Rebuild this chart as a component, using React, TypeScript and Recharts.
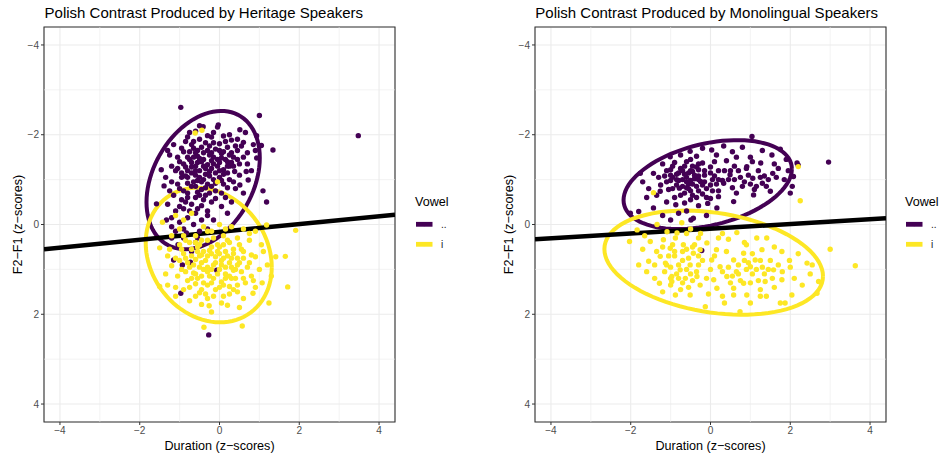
import React from 'react';
import {
  ComposedChart, Scatter, Line, XAxis, YAxis, CartesianGrid, ReferenceLine, ReferenceArea,
} from 'recharts';

const PURPLE = '#440154';
const YELLOW = '#FDE725';
const FONT = '"Liberation Sans", Arial, Helvetica, sans-serif';

const DOMAIN: [number, number] = [-4.4, 4.4];
const MAJOR_TICKS = [-4, -2, 0, 2, 4];
const MINOR_TICKS = [-3, -1, 1, 3];
const VOWELS = ['..', 'i'];

// heritage speakers, [duration z, F2-F1 z]
const heritagePurple: [number, number][] = [
  [-0.97, -2.61], [1.0, -2.43], [-0.03, -2.22], [-0.05, -2.17], [-0.41, -2.18], [0.51, -2.11], [-0.75, -2.05], [-0.6, -2.08],
  [0.93, -1.98], [3.48, -1.98], [-0.2, -1.95], [0.1, -1.97], [-0.5, -1.9], [0.3, -1.88], [-0.85, -1.85], [0.6, -1.83],
  [-0.35, -1.82], [1.05, -1.76], [0.85, -1.78], [-1.15, -1.78], [0.0, -1.8],
  [1.34, -1.66], [-0.65, -1.7], [-0.1, -1.68], [0.2, -1.72], [0.45, -1.65], [-0.9, -1.62], [-0.4, -1.6], [0.05, -1.58],
  [-0.25, -1.55], [0.7, -1.6], [0.93, -1.48], [-1.25, -1.55], [-0.55, -1.52], [0.35, -1.5], [-0.15, -1.5], [0.15, -1.45],
  [-0.75, -1.45], [-1.0, -1.4], [-0.45, -1.4], [0.0, -1.38], [0.5, -1.35], [-0.3, -1.33], [0.25, -1.3], [-0.6, -1.3],
  [-0.85, -1.28], [-1.46, -1.22], [0.67, -1.18], [-0.2, -1.25], [0.1, -1.22], [-0.5, -1.2], [-1.1, -1.2], [0.38, -1.18],
  [-0.7, -1.15], [-0.35, -1.12], [0.72, -0.99], [0.51, -0.88], [-0.95, -1.05], [0.0, -1.05], [-0.15, -1.0], [0.25, -1.0],
  [-0.55, -0.98], [-1.2, -0.95], [-0.8, -0.92], [-0.3, -0.9], [0.1, -0.9], [-1.39, -0.86], [0.4, -0.8], [-0.6, -0.85],
  [-1.0, -0.8], [-0.45, -0.78], [-0.1, -0.75], [1.09, -0.75], [0.6, -0.7], [-0.8, -0.7], [-1.15, -0.65], [-0.35, -0.65],
  [0.15, -0.6], [-0.6, -0.6], [-0.95, -0.55], [0.3, -0.5], [1.18, -0.5], [-1.58, -0.46], [-0.2, -0.5], [-0.7, -0.45],
  [-1.3, -0.45], [-0.45, -0.42], [0.05, -0.4], [-0.9, -0.35], [-1.1, -0.3], [-0.3, -0.3], [-0.6, -0.25], [0.2, -0.25],
  [-1.33, -0.1], [-0.8, -0.15], [-0.45, -0.1], [-1.0, -0.05], [-0.15, -0.1], [-0.65, 0.0], [-1.2, 0.05], [-0.83, 0.19],
  [-1.04, 0.45], [-0.7, 0.6], [-0.9, 0.3], [-0.5, 0.15], [-1.2, 0.3], [-0.6, 0.4], [-0.3, 0.1], [-1.15, 0.79],
  [-0.93, 0.9], [-0.73, 0.84], [-0.07, 1.02], [-0.97, 1.53], [-0.27, 2.46],
  [-0.25, -1.75], [-0.05, -1.45], [-0.55, -1.65], [0.3, -1.6], [-0.8, -1.2], [-0.1, -1.15], [0.2, -1.4], [-0.4, -1.0],
  [-0.65, -1.85], [-0.3, -1.98], [0.15, -1.85], [0.45, -1.9], [-0.95, -1.7], [-0.45, -1.72], [0.0, -1.65], [0.55, -1.75],
  [-0.75, -1.62], [-0.2, -1.6], [0.25, -1.55], [-1.05, -1.5], [-0.65, -1.5], [-0.4, -1.45], [0.05, -1.48], [0.45, -1.45],
  [-0.9, -1.35], [-0.55, -1.38], [-0.15, -1.35], [0.35, -1.3], [0.7, -1.35], [-1.2, -1.3], [-0.7, -1.28], [-0.35, -1.25],
  [0.0, -1.2], [0.2, -1.15], [-0.95, -1.15], [-0.6, -1.1], [-0.25, -1.08], [0.5, -1.1], [-1.35, -1.05], [-0.8, -1.05],
  [-0.45, -0.95], [0.05, -0.98], [0.35, -0.95], [-1.05, -0.9], [-0.7, -0.85], [-0.2, -0.85], [0.2, -0.82], [-0.9, -0.75],
  [-0.55, -0.72], [-0.25, -0.7], [0.05, -0.7], [-1.25, -0.75], [-0.4, -0.55], [-0.85, -0.5], [-0.1, -0.58], [-1.0, -0.4],
  [-0.55, -0.35], [-0.75, -0.3], [-1.2, -0.15], [-0.3, -0.2], [-0.9, 0.1], [-0.55, 0.3], [-1.1, 0.15], [0.6, -1.5],
  [0.8, -1.2], [0.9, -1.65], [-1.3, -1.65], [-0.5, -2.2], [0.25, -2.0], [-0.8, -1.95], [0.65, -2.05], [-0.15, -2.05],
  [-0.6, -1.6], [-0.3, -1.65], [0.1, -1.62], [-0.8, -1.5], [-0.5, -1.47], [-0.2, -1.42], [0.3, -1.38], [-0.7, -1.38],
  [-0.4, -1.3], [-0.05, -1.3], [-0.6, -1.2], [-0.25, -1.18], [0.1, -1.12], [-0.85, -1.08], [-0.5, -1.05], [-0.1, -0.92],
  [-0.65, -0.95], [-0.35, -0.82], [-0.8, -0.6], [-0.5, -0.65], [-0.15, -1.82], [0.4, -1.75], [-0.7, -1.78], [0.2, -1.3],
  [-1.05, -1.25],
];

const heritageYellow: [number, number][] = [
  [-0.61, -2.04], [-0.44, -2.1], [-0.05, -0.95], [-0.9, -0.1], [-1.1, -0.2], [-0.7, -0.25],
  [-1.43, -0.05], [0.0, 0.0], [1.18, 0.01], [1.91, 0.13], [-0.4, 0.05], [0.3, 0.05], [-1.0, 0.1], [0.6, 0.1],
  [-0.2, 0.15], [0.9, 0.15], [-1.2, 0.25], [-0.6, 0.25], [0.1, 0.25], [0.45, 0.3], [-0.85, 0.35], [-0.3, 0.35],
  [0.75, 0.35], [0.25, 0.4], [-1.0, 0.45], [-0.05, 0.45], [-0.5, 0.45], [1.05, 0.45], [-1.5, 0.52], [-1.25, 0.55],
  [-0.7, 0.55], [0.55, 0.55], [-0.25, 0.58], [0.15, 0.6], [-0.9, 0.65], [0.35, 0.65], [-0.45, 0.68], [0.8, 0.68],
  [0.9, 0.72], [1.41, 0.72], [1.65, 0.71], [-0.1, 0.72], [-1.1, 0.75], [0.6, 0.75], [-0.6, 0.78], [0.05, 0.8],
  [-0.35, 0.8], [-0.8, 0.85], [0.25, 0.85], [-0.15, 0.9], [0.45, 0.9], [-1.2, 0.92], [0.7, 0.95], [-0.5, 0.95],
  [0.0, 1.0], [-0.95, 1.0], [0.35, 1.02], [-0.3, 1.05], [0.55, 1.05], [1.0, 1.0], [-0.65, 1.08], [0.15, 1.1],
  [-1.05, 1.15], [-0.45, 1.15], [0.8, 1.15], [-0.15, 1.2], [0.4, 1.2], [-0.8, 1.25], [0.05, 1.28], [0.65, 1.3],
  [1.07, 1.3], [-0.6, 1.32], [-0.3, 1.35], [0.25, 1.38], [-1.5, 1.38], [1.71, 1.39], [-1.3, 1.35], [0.9, 1.4],
  [-0.9, 1.45], [-0.1, 1.45], [0.45, 1.5], [-0.5, 1.52], [0.84, 1.53], [-1.1, 1.6], [0.1, 1.6], [-0.3, 1.65],
  [0.6, 1.65], [-0.75, 1.7], [-0.26, 1.81], [-0.45, 1.78], [1.24, 1.75], [0.2, 1.8], [-0.39, 2.29], [0.57, 2.26],
  [-0.2, 1.95], [-0.4, 0.6], [0.2, 0.7], [-0.2, 1.0], [-0.6, 1.1], [0.3, 1.2], [0.0, 0.5], [-0.75, 0.95],
  [-0.75, 0.4], [-0.45, 0.35], [-0.15, 0.3], [0.2, 0.35], [0.5, 0.45], [-0.95, 0.55], [-0.55, 0.6], [-0.3, 0.7],
  [0.0, 0.65], [0.3, 0.75], [0.6, 0.6], [-1.0, 0.8], [-0.7, 0.7], [-0.45, 0.85], [-0.1, 0.85], [0.15, 0.95],
  [0.4, 1.0], [0.75, 0.85], [-0.85, 1.05], [-0.4, 1.0], [-0.05, 1.1], [0.25, 1.15], [0.6, 1.2], [-0.7, 1.2],
  [-0.2, 1.3], [0.1, 1.35], [0.45, 1.35], [-0.45, 1.45], [-0.75, 1.4], [0.25, 1.55], [-0.15, 1.6], [-0.6, 1.6],
  [0.85, 1.25], [1.2, 0.9], [1.1, 0.6], [-1.35, 1.1], [-1.1, 1.4], [0.05, 1.75], [0.5, 1.85], [-0.9, 0.25],
  [-0.3, 0.15], [0.15, 0.1], [0.75, 0.2], [-1.3, 0.7], [1.3, 1.15], [-0.55, 0.5], [0.45, 0.75], [-0.2, 0.5],
  [-0.5, 0.7], [-0.2, 0.65], [0.1, 0.75], [-0.65, 0.9], [-0.3, 0.95], [0.05, 0.9], [0.3, 0.95], [-0.55, 1.2],
  [-0.25, 1.15], [0.15, 1.2], [-0.4, 1.3], [0.0, 1.4], [0.35, 1.45], [-0.85, 0.75], [-0.05, 0.6], [0.5, 0.85],
  [-0.35, 1.55], [0.1, 0.45], [-0.6, 0.4], [0.35, 0.55],
];

// monolingual speakers
const monoPurple: [number, number][] = [
  [1.04, -1.96], [0.33, -1.75], [1.75, -1.68], [1.3, -1.65], [0.03, -1.66], [-0.51, -1.63], [0.8, -1.72], [-0.2, -1.7],
  [0.55, -1.62], [1.54, -1.55], [-1.01, -1.51], [-0.75, -1.55], [0.15, -1.55], [-0.35, -1.52], [1.0, -1.5],
  [2.17, -1.37], [2.96, -1.39], [2.2, -1.32], [1.26, -1.37], [-0.2, -1.37], [-0.6, -1.4], [-0.9, -1.38], [0.4, -1.42],
  [-1.2, -1.35], [0.91, -1.29], [0.6, -1.3], [-0.45, -1.3], [0.0, -1.28], [-0.75, -1.25], [1.7, -1.25], [-1.0, -1.22],
  [-0.3, -1.22], [0.2, -1.2], [1.95, -1.2], [-1.76, -1.14], [-1.43, -1.14], [1.56, -1.14], [0.49, -1.11], [-0.55, -1.15],
  [-0.85, -1.12], [-0.15, -1.1], [0.1, -1.08], [-1.15, -1.08], [2.08, -1.07], [0.75, -1.05], [1.06, -1.03], [1.35, -1.08],
  [-0.4, -1.02], [-0.7, -1.0], [-1.0, -0.98], [0.3, -0.98], [-0.25, -0.96], [1.85, -1.0], [1.3, -0.92], [0.33, -0.92],
  [0.8, -0.85], [-0.55, -0.9], [-0.85, -0.88], [-1.25, -0.88], [0.0, -0.88], [-0.35, -0.85], [-0.1, -0.8], [0.55, -0.82],
  [-0.78, -0.81], [-1.05, -0.78], [1.5, -0.74], [-1.26, -0.74], [-0.5, -0.75], [0.2, -0.75], [2.0, -0.7], [-0.65, -0.7],
  [1.1, -0.78], [-1.55, -0.8], [-0.2, -0.68], [1.08, -0.66], [0.2, -0.62], [0.58, -0.51], [-0.5, -0.55], [-0.9, -0.6],
  [-0.35, -0.6], [-0.07, -0.47], [-0.87, -0.44], [-1.1, -0.5], [0.0, -0.58], [-0.65, -0.48], [0.16, -0.37], [-1.43, -0.37],
  [-0.3, -0.42], [-2.01, -0.25], [-1.8, -0.29], [-0.43, -0.14], [-0.49, -0.1], [-1.2, -0.2], [-0.8, -0.25], [-0.1, -0.2],
  [-1.0, -0.1], [-0.6, -0.3], [-0.22, 0.58], [-0.6, -1.05], [-0.45, -1.18], [-0.7, -0.85], [-0.3, -1.0], [0.5, -1.2],
  [-0.95, -1.3], [-0.65, -1.3], [-0.3, -1.35], [0.1, -1.4], [-1.1, -1.2], [-0.8, -1.15], [-0.5, -1.2], [-0.15, -1.2],
  [0.35, -1.2], [-1.3, -1.05], [-0.95, -1.05], [-0.6, -0.95], [-0.3, -1.08], [0.05, -1.0], [0.45, -1.0], [-1.1, -0.95],
  [-0.8, -0.98], [-0.45, -0.9], [-0.15, -0.95], [0.15, -0.9], [-0.95, -0.8], [-0.6, -0.82], [-0.3, -0.75], [0.05, -0.75],
  [-1.35, -0.65], [-0.75, -0.65], [-0.45, -0.65], [-0.1, -0.6], [0.7, -1.2], [0.95, -1.1], [1.2, -1.2], [1.45, -1.0],
  [0.85, -0.95], [1.15, -0.85], [0.65, -0.7], [1.4, -0.85], [1.65, -1.05], [1.05, -1.4], [0.2, -1.0], [-0.5, -1.45],
  [0.65, -1.5], [1.6, -1.35], [1.9, -1.45], [2.05, -0.85], [-1.6, -0.6], [-1.7, -0.95],
  [-0.7, -1.2], [-0.4, -1.1], [-0.85, -1.0], [-0.5, -0.98], [-0.2, -0.88], [-0.65, -1.12], [-0.35, -1.28], [-1.0, -1.1],
  [0.0, -1.15], [-0.55, -0.8], [0.9, -1.25], [1.25, -1.05], [0.6, -1.0], [1.0, -0.9],
];

const monoYellow: [number, number][] = [
  [-2.03, 0.38], [-1.51, 0.38], [-1.55, 0.82], [-1.6, 1.05], [-1.28, 1.31], [-0.97, 1.27], [-0.88, 1.57], [-0.51, 1.57],
  [-0.13, 1.83], [0.74, 1.94], [1.75, 1.75], [1.87, 1.75], [2.04, 1.57], [2.67, 1.53], [2.71, 1.27], [2.42, 0.86],
  [2.55, 0.9], [3.0, 0.55], [3.63, 0.92], [2.25, -0.53], [2.2, -1.29], [1.79, 0.6], [1.98, 0.8], [1.58, 1.01],
  [1.79, 1.23], [1.37, 1.27], [1.25, 1.6], [1.4, 1.6], [1.12, 0.79], [1.29, 0.56], [1.41, 0.3], [1.16, 0.3],
  [0.45, 0.33], [0.66, 0.18], [-0.09, 0.41], [-0.3, 0.3], [-0.26, 0.56], [0.03, 0.79], [0.15, 0.56], [0.24, 0.94],
  [0.58, 0.79], [0.83, 0.64], [1.0, 0.94], [0.41, 1.16], [0.08, 1.23], [0.16, 1.42], [0.58, 1.42], [0.83, 1.31],
  [0.58, 1.57], [0.91, 1.57], [-0.51, 0.9], [-0.76, 1.01], [-1.13, 0.86], [-1.26, 0.71], [-1.01, 0.53], [-1.18, 0.34],
  [-0.88, 0.3], [-0.68, 0.45], [-0.43, 0.64], [-1.09, 0.16], [-0.84, 0.19], [-0.6, 0.2], [-0.34, 1.16], [-0.63, 1.2],
  [-0.97, 1.16], [-0.26, 1.35], [-1.84, 0.12], [-1.34, 0.0], [-0.72, -0.04], [-1.43, -0.71], [0.3, 0.2], [-0.5, 0.1],
  [0.9, 1.0], [1.05, 1.1], [1.3, 0.95], [1.5, 0.8], [0.7, 1.1], [1.2, 1.25], [1.6, 1.4], [2.1, 1.2],
  [2.3, 1.35], [-0.9, 0.7], [-0.7, 0.8], [-1.0, 0.95], [-0.55, 1.4], [-0.2, 0.8], [0.4, 0.6], [0.0, 1.0],
  [-1.4, 1.2], [-1.7, 0.55], [0.35, 1.75], [1.0, 1.75], [-0.4, 0.45], [0.9, 0.45], [1.8, 1.05], [2.0, 0.95],
  [-1.2, 0.5], [-0.95, 0.45], [-0.7, 0.6], [-0.45, 0.5], [-1.05, 0.7], [-0.8, 0.9], [-0.55, 0.75], [-0.3, 0.9],
  [-1.15, 1.05], [-0.85, 1.1], [-0.6, 1.0], [-0.35, 1.05], [-1.0, 1.35], [-0.7, 1.3], [-0.45, 1.25], [-0.75, 1.45],
  [-1.2, 1.5], [-1.4, 0.9], [-1.35, 0.6], [0.45, 0.95], [0.65, 1.05], [0.85, 0.8], [1.05, 0.65], [1.25, 0.8],
  [1.45, 1.0], [0.75, 1.25], [1.0, 1.3], [1.25, 1.45], [0.5, 1.3], [0.3, 1.05], [0.1, 0.7], [-0.05, 1.55],
  [0.3, 1.6], [1.55, 1.2], [1.7, 0.9], [2.2, 0.65], [2.5, 1.1], [-1.8, 0.9], [-1.65, 0.25], [-0.25, 0.2],
  [0.85, 0.4], [1.6, 0.5], [0.2, 0.3], [-0.1, 1.2],
  [-0.9, 0.6], [-0.6, 0.55], [-1.0, 1.2], [-0.5, 1.1], [-0.8, 1.2], [-0.3, 0.7], [0.95, 0.85], [1.15, 1.0],
  [0.7, 0.9], [1.35, 1.1], [0.55, 1.15], [-1.1, 0.9],
];

// ellipse outlines: centre, horizontal / vertical half-extents, sin of phase
const heritageEllipses = [
  { cx: -0.41, cy: -0.99, ax: 1.42, ay: 1.54, s: -0.32 },
  { cx: -0.27, cy: 0.68, ax: 1.58, ay: 1.5, s: 0.18 },
];
const monoEllipses = [
  { cx: -0.07, cy: -0.89, ax: 2.11, ay: 0.99, s: -0.35 },
  { cx: 0.08, cy: 0.85, ax: 2.74, ay: 1.16, s: 0.26 },
];

const heritageFit = [{ x: -4.4, y: 0.55 }, { x: 4.4, y: -0.22 }];
const monoFit = [{ x: -4.4, y: 0.33 }, { x: 4.4, y: -0.14 }];

type E = { cx: number; cy: number; ax: number; ay: number; s: number };

function outline(e: E) {
  const phi = Math.asin(e.s);
  const out = [];
  for (let i = 0; i <= 90; i++) {
    const t = (i / 90) * Math.PI * 2;
    out.push({ x: e.cx + e.ax * Math.cos(t), y: e.cy + e.ay * Math.sin(t + phi) });
  }
  return out;
}

const toPts = (arr: [number, number][]) => arr.map(([x, y]) => ({ x, y }));
const fmt = (v: number) => String(v).replace('-', '\u2212');

const dot = (color: string) => (p: any) => <circle cx={p.cx} cy={p.cy} r={2.7} fill={color} />;

function Panel({ purple, yellow, ellipses, fit, marginRight, width }: any) {
  return (
    <ComposedChart width={width} height={456} margin={{ top: 27, right: marginRight, bottom: 0, left: 0 }}>
      <CartesianGrid stroke="#ebebeb" strokeWidth={1.1} />
      {MINOR_TICKS.map((v) => (
        <ReferenceLine key={'x' + v} x={v} stroke="#ebebeb" strokeWidth={0.6} />
      ))}
      {MINOR_TICKS.map((v) => (
        <ReferenceLine key={'y' + v} y={v} stroke="#ebebeb" strokeWidth={0.6} />
      ))}
      <XAxis
        type="number" dataKey="x" domain={DOMAIN} ticks={MAJOR_TICKS} allowDataOverflow
        height={34} axisLine={false} tickSize={3} tickLine={{ stroke: '#333333' }}
        tick={{ fill: '#4d4d4d', fontSize: 10.1, fontFamily: FONT }} tickFormatter={fmt}
      />
      <YAxis
        type="number" dataKey="y" domain={DOMAIN} ticks={MAJOR_TICKS} allowDataOverflow reversed
        width={44} axisLine={false} tickSize={3} tickLine={{ stroke: '#333333' }}
        tick={{ fill: '#4d4d4d', fontSize: 10.1, fontFamily: FONT }} tickFormatter={fmt}
      />
      <Scatter data={toPts(purple)} fill={PURPLE} shape={dot(PURPLE)} isAnimationActive={false} />
      <Scatter data={toPts(yellow)} fill={YELLOW} shape={dot(YELLOW)} isAnimationActive={false} />
      <Line data={outline(ellipses[0])} dataKey="y" type="linear" dot={false} stroke={PURPLE} strokeWidth={4} isAnimationActive={false} />
      <Line data={outline(ellipses[1])} dataKey="y" type="linear" dot={false} stroke={YELLOW} strokeWidth={4} isAnimationActive={false} />
      <Line data={fit} dataKey="y" type="linear" dot={false} stroke="#000000" strokeWidth={4.5} isAnimationActive={false} />
      <ReferenceArea x1={DOMAIN[0]} x2={DOMAIN[1]} y1={DOMAIN[0]} y2={DOMAIN[1]} fill="none" stroke="#333333" strokeWidth={1.1} />
    </ComposedChart>
  );
}

function Legend({ x }: { x: number }) {
  return (
    <g fontFamily={FONT}>
      <text x={x} y={205.7} fontSize={12.6} fill="#000">Vowel</text>
      {VOWELS.map((v, i) => {
        const cy = 224.3 + i * 20;
        const c = i === 0 ? PURPLE : YELLOW;
        return (
          <g key={v}>
            <rect x={x + 1} y={cy - 2.4} width={16.5} height={4.8} fill={c} />
            <circle cx={x + 9.2} cy={cy} r={2} fill={c} />
            <text x={x + 26} y={cy + 3.4} fontSize={10.1} fill="#1a1a1a">{v}</text>
          </g>
        );
      })}
    </g>
  );
}

export default function App() {
  return (
    <div style={{ position: 'absolute', left: 0, top: 0, width: 940, height: 456, background: '#fff', fontFamily: FONT }}>
      <div style={{ position: 'absolute', left: 0, top: 0 }}>
        <Panel purple={heritagePurple} yellow={heritageYellow} ellipses={heritageEllipses} fit={heritageFit} width={470} marginRight={75} />
      </div>
      <div style={{ position: 'absolute', left: 491, top: 0 }}>
        <Panel purple={monoPurple} yellow={monoYellow} ellipses={monoEllipses} fit={monoFit} width={449} marginRight={54} />
      </div>
      <svg width={940} height={456} style={{ position: 'absolute', left: 0, top: 0, pointerEvents: 'none' }}>
        <g fontFamily={FONT} fill="#000">
          <text x={44.6} y={18.3} fontSize={15}>Polish Contrast Produced by Heritage Speakers</text>
          <text x={535.3} y={18.3} fontSize={15}>Polish Contrast Produced by Monolingual Speakers</text>
          <text x={219.5} y={450} fontSize={12.6} textAnchor="middle">Duration (z{'\u2212'}scores)</text>
          <text x={710.5} y={450} fontSize={12.6} textAnchor="middle">Duration (z{'\u2212'}scores)</text>
          <text transform="translate(21.8,224.5) rotate(-90)" fontSize={12.6} textAnchor="middle">F2{'\u2212'}F1 (z{'\u2212'}scores)</text>
          <text transform="translate(512.8,224.5) rotate(-90)" fontSize={12.6} textAnchor="middle">F2{'\u2212'}F1 (z{'\u2212'}scores)</text>
        </g>
        <Legend x={415} />
        <Legend x={905} />
      </svg>
    </div>
  );
}
